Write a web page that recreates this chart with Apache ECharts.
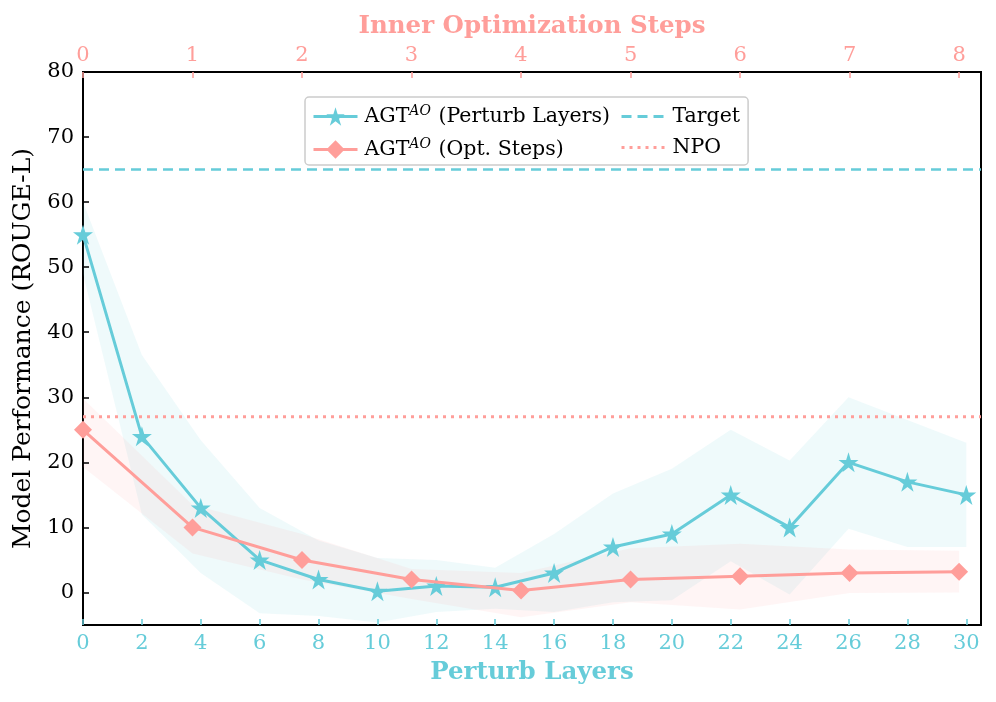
<!DOCTYPE html>
<html>
<head>
<meta charset="utf-8">
<script src="https://cdn.jsdelivr.net/npm/echarts@6/dist/echarts.min.js"></script>
<style>html,body{margin:0;padding:0;background:#fff;}#c{width:996px;height:702px;}</style>
</head>
<body>
<div id="c"></div>
<script>
// ---- data ----
const layers = [0,2,4,6,8,10,12,14,16,18,20,22,24,26,28,30];
const layerMean = [55,24,13,5,2,0.2,1,0.8,3,7,9,15,10,20,17,15];
const layerHi   = [60,36.5,23.4,13,8,5.3,5,3.8,9,15.2,19,25,20.3,30,26.5,23];
const layerLo   = [49,12,3,-3.2,-3.6,-4.6,-3,-2.5,-3,-1.5,-1.2,4.8,-0.3,9.8,7,7];

const steps = [0,1,2,3,4,5,6,7,8];
const stepMean = [25,10,5,2,0.3,2,2.5,3,3.2];
const stepHi   = [29.8,13.5,9,3.6,3,6.8,7.5,6.6,6.4];
const stepLo   = [19.3,6,2,-1,-3.8,-1.5,-2.6,-0.1,0];

const targetValue = 65;
const npoValue = 27;

const yTicks = [0,10,20,30,40,50,60,70,80];
const layerTicks = [0,2,4,6,8,10,12,14,16,18,20,22,24,26,28,30];
const stepTicks = [0,1,2,3,4,5,6,7,8];

// ---- style ----
const CYAN = '#66ccd9';
const PINK = '#ff9e9a';
const FONT = 'DejaVu Serif';
const STAR = 'path://M50,0L61.2,34.6L97.6,34.5L68.1,55.9L79.4,90.5L50,69L20.6,90.5L31.9,55.9L2.4,34.5L38.8,34.6Z';

function band(xs, lo, hi, fill, axisIdx) {
  return {
    type: 'custom', xAxisIndex: axisIdx, yAxisIndex: 0, silent: true, z: 1,
    data: xs.map((x, i) => [x, lo[i], hi[i]]),
    encode: { x: 0, y: [1, 2] },
    renderItem: function (params, api) {
      if (params.dataIndex !== 0) return null;
      const pts = [];
      for (let i = 0; i < xs.length; i++) pts.push(api.coord([xs[i], hi[i]]));
      for (let i = xs.length - 1; i >= 0; i--) pts.push(api.coord([xs[i], lo[i]]));
      return { type: 'polygon', shape: { points: pts }, style: { fill: fill } };
    }
  };
}

const rich = {
  n: { fontFamily: FONT, fontSize: 20.5, color: '#000' },
  e: { fontFamily: FONT, fontSize: 20.5, color: '#000', padding: [0, 11, 0, 0] },
  s: { fontFamily: FONT, fontSize: 14, fontStyle: 'italic', color: '#000', padding: [0, 1, 11, 0] }
};

const hiddenSym = { color: 'rgba(0,0,0,0)', borderWidth: 0 };

const chart = echarts.init(document.getElementById('c'));
chart.setOption({
  animation: false,
  backgroundColor: '#fff',
  grid: { left: 83, right: 15, top: 72, bottom: 77, show: true, borderColor: '#000', borderWidth: 2, backgroundColor: 'transparent', z: 0 },
  legend: {
    orient: 'vertical', left: 305, top: 97, height: 62,
    padding: [7, 8, 5, 7], itemGap: 10, itemWidth: 44, itemHeight: 23,
    borderColor: '#cccccc', borderWidth: 1.5, borderRadius: 4, backgroundColor: 'rgba(255,255,255,0.8)',
    lineStyle: { width: 3 },
    data: [
      { name: 'AGT^AO (Perturb Layers)' },
      { name: 'AGT^AO (Opt. Steps)' },
      { name: 'Target', itemStyle: hiddenSym },
      { name: 'NPO', itemStyle: hiddenSym }
    ],
    formatter: function (name) {
      if (name.indexOf('AGT^AO') === 0) {
        return '{n|AGT}{s|AO}{e|' + name.slice(6) + '}';
      }
      return '{n|' + name + '}';
    },
    textStyle: { rich: rich, fontFamily: FONT, fontSize: 20.5, color: '#000', padding: [0, 0, 0, 2] }
  },
  xAxis: [
    {
      type: 'value', position: 'bottom', min: 0, max: 30.5, z: 5,
      name: 'Perturb Layers', nameLocation: 'middle', nameGap: 35,
      nameTextStyle: { fontFamily: FONT, fontSize: 24.5, fontWeight: 'bold', color: CYAN },
      axisLine: { show: false, onZero: false },
      splitLine: { show: false },
      axisTick: { show: true, inside: true, length: 6, lineStyle: { color: CYAN, width: 1.5 }, customValues: layerTicks },
      axisLabel: { fontFamily: FONT, fontSize: 21, color: CYAN, margin: 8, customValues: layerTicks }
    },
    {
      type: 'value', position: 'top', min: 0, max: 8.2, z: 5,
      name: 'Inner Optimization Steps', nameLocation: 'middle', nameGap: 33,
      nameTextStyle: { fontFamily: FONT, fontSize: 24.5, fontWeight: 'bold', color: PINK },
      axisLine: { show: false, onZero: false },
      splitLine: { show: false },
      axisTick: { show: true, inside: true, length: 6, lineStyle: { color: PINK, width: 1.5 }, customValues: stepTicks },
      axisLabel: { fontFamily: FONT, fontSize: 21, color: PINK, margin: 6, customValues: stepTicks }
    }
  ],
  yAxis: [{
    type: 'value', min: -5, max: 80, z: 5,
    name: 'Model Performance (ROUGE-L)', nameLocation: 'middle', nameGap: 44,
    nameTextStyle: { fontFamily: FONT, fontSize: 25, color: '#000' },
    axisLine: { show: false, onZero: false },
    splitLine: { show: false },
    axisTick: { show: true, inside: true, length: 6, lineStyle: { color: '#000', width: 1.5 }, customValues: yTicks },
    axisLabel: { fontFamily: FONT, fontSize: 21, color: '#000', margin: 9, customValues: yTicks }
  }],
  series: [
    band(layers, layerLo, layerHi, 'rgba(102,204,217,0.10)', 0),
    band(steps, stepLo, stepHi, 'rgba(255,158,154,0.10)', 1),
    {
      name: 'AGT^AO (Perturb Layers)', type: 'line', xAxisIndex: 0, yAxisIndex: 0, z: 3,
      data: layers.map((x, i) => [x, layerMean[i]]),
      symbol: STAR, symbolSize: 20, showAllSymbol: true,
      lineStyle: { color: CYAN, width: 3 }, itemStyle: { color: CYAN }
    },
    {
      name: 'AGT^AO (Opt. Steps)', type: 'line', xAxisIndex: 1, yAxisIndex: 0, z: 4,
      data: steps.map((x, i) => [x, stepMean[i]]),
      symbol: 'diamond', symbolSize: 18, showAllSymbol: true,
      lineStyle: { color: PINK, width: 3 }, itemStyle: { color: PINK }
    },
    {
      name: 'Target', type: 'line', xAxisIndex: 0, yAxisIndex: 0, z: 2,
      data: [[0, targetValue], [30.5, targetValue]], symbol: 'none',
      lineStyle: { color: CYAN, width: 2.5, type: [10, 6] }, itemStyle: { color: CYAN }
    },
    {
      name: 'NPO', type: 'line', xAxisIndex: 0, yAxisIndex: 0, z: 2,
      data: [[0, npoValue], [30.5, npoValue]], symbol: 'none',
      lineStyle: { color: PINK, width: 3, type: [3, 5] }, itemStyle: { color: PINK }
    }
  ]
});
</script>
</body>
</html>
